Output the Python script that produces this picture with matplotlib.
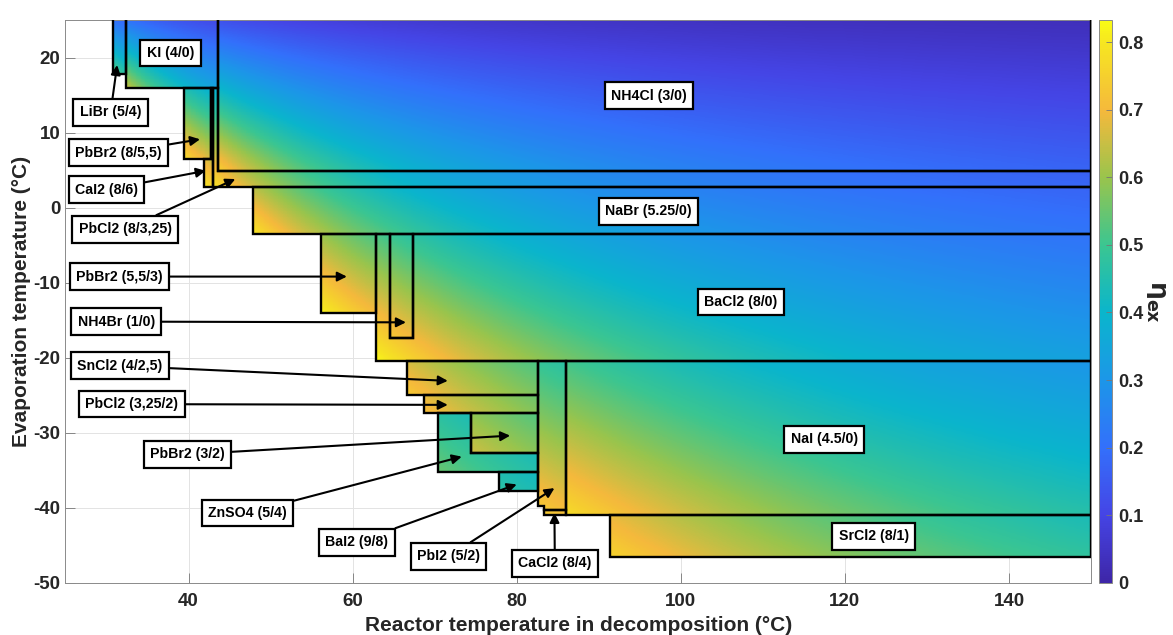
import numpy as np
import matplotlib
matplotlib.use("Agg")
import matplotlib.pyplot as plt
from matplotlib.path import Path
from matplotlib.patches import Polygon
from matplotlib.colors import LinearSegmentedColormap
from matplotlib.ticker import FuncFormatter

plt.rcParams['font.family'] = ['Liberation Sans', 'DejaVu Sans']
plt.rcParams['font.weight'] = 'bold'
plt.rcParams['mathtext.fontset'] = 'dejavusans'
plt.rcParams['axes.unicode_minus'] = False

# ---------------- data ----------------
salt_labels = ['LiBr (5/4)', 'KI (4/0)', 'PbBr2 (8/5,5)', 'CaI2 (8/6)', 'PbCl2 (8/3,25)',
               'NH4Cl (3/0)', 'NaBr (5.25/0)', 'PbBr2 (5,5/3)', 'BaCl2 (8/0)', 'NH4Br (1/0)',
               'SnCl2 (4/2,5)', 'PbCl2 (3,25/2)', 'PbBr2 (3/2)', 'ZnSO4 (5/4)', 'BaI2 (9/8)',
               'PbI2 (5/2)', 'CaCl2 (8/4)', 'NaI (4.5/0)', 'SrCl2 (8/1)']

# operating-domain boundaries of each salt: (reactor T, evaporation T) vertices in degC
region_LiBr = [(30.8, 26), (30.8, 17.8), (32.4, 17.8), (32.4, 26)]
region_KI = [(32.4, 26), (32.4, 16.0), (43.6, 16.0), (43.6, 26)]
region_PbBr2_855 = [(39.5, 16.0), (39.5, 6.5), (42.7, 6.5), (42.7, 16.0)]
region_CaI2 = [(41.9, 6.5), (41.9, 2.7), (43.0, 2.7), (43.0, 16.0), (42.7, 16.0), (42.7, 6.5)]
region_PbCl2_8325 = [(43.0, 16.0), (43.0, 2.7), (150, 2.7), (150, 4.9), (43.6, 4.9), (43.6, 16.0)]
region_NH4Cl = [(43.6, 26), (43.6, 4.9), (150, 4.9), (150, 26)]
region_NaBr = [(47.9, 2.7), (47.9, -3.5), (150, -3.5), (150, 2.7)]
region_PbBr2_553 = [(56.2, -3.5), (56.2, -14.0), (62.8, -14.0), (62.8, -3.5)]
region_BaCl2 = [(62.8, -3.5), (62.8, -20.4), (150, -20.4), (150, -3.5),
                (67.3, -3.5), (67.3, -17.4), (64.6, -17.4), (64.6, -3.5)]
region_NH4Br = [(64.6, -3.5), (64.6, -17.4), (67.3, -17.4), (67.3, -3.5)]
region_SnCl2 = [(66.6, -20.4), (66.6, -25.0), (82.6, -25.0), (82.6, -20.4)]
region_PbCl2_3252 = [(68.7, -25.0), (68.7, -27.4), (82.6, -27.4), (82.6, -25.0)]
region_PbBr2_32 = [(74.4, -27.4), (74.4, -32.7), (82.6, -32.7), (82.6, -27.4)]
region_ZnSO4 = [(70.4, -27.4), (70.4, -35.2), (82.6, -35.2), (82.6, -32.7), (74.4, -32.7), (74.4, -27.4)]
region_BaI2 = [(77.8, -35.2), (77.8, -37.8), (82.6, -37.8), (82.6, -35.2)]
region_PbI2 = [(82.6, -20.4), (82.6, -39.8), (83.3, -39.8), (83.3, -40.3), (86.0, -40.3), (86.0, -20.4)]
region_CaCl2 = [(83.3, -40.3), (83.3, -41.0), (86.0, -41.0), (86.0, -40.3)]
region_NaI = [(86.0, -20.4), (86.0, -41.0), (150, -41.0), (150, -20.4)]
region_SrCl2 = [(91.4, -41.0), (91.4, -46.6), (150, -46.6), (150, -41.0)]

regions = [region_LiBr, region_KI, region_PbBr2_855, region_CaI2, region_PbCl2_8325,
           region_NH4Cl, region_NaBr, region_PbBr2_553, region_BaCl2, region_NH4Br,
           region_SnCl2, region_PbCl2_3252, region_PbBr2_32, region_ZnSO4, region_BaI2,
           region_PbI2, region_CaCl2, region_NaI, region_SrCl2]

# exergy efficiency at the lowest-temperature corner of each domain
eta_peak = [0.55, 0.66, 0.78, 0.80, 0.80,
            0.76, 0.80, 0.82, 0.83, 0.74,
            0.74, 0.72, 0.66, 0.55, 0.47,
            0.74, 0.74, 0.78, 0.76]

# reference temperatures of the Carnot factors (K)
t_ref_evap = 302.65
t_ref_dec = 294.65

x_ticks = [40, 60, 80, 100, 120, 140]
y_ticks = [-50, -40, -30, -20, -10, 0, 10, 20]
cbar_ticks = [0, 0.1, 0.2, 0.3, 0.4, 0.5, 0.6, 0.7, 0.8]

# ---------------- parula-like colormap ----------------
cmap_pos = [0.00, 0.12, 0.24, 0.36, 0.48, 0.60, 0.72, 0.84, 0.96, 1.00]
cmap_rgb = [(0.243, 0.150, 0.660), (0.270, 0.270, 0.900), (0.200, 0.440, 0.985),
            (0.110, 0.590, 0.910), (0.040, 0.710, 0.800), (0.230, 0.775, 0.570),
            (0.600, 0.770, 0.300), (0.960, 0.725, 0.235), (0.965, 0.900, 0.130),
            (0.977, 0.984, 0.081)]
parula = LinearSegmentedColormap.from_list('parula', list(zip(cmap_pos, cmap_rgb)), N=256)

# ---------------- efficiency field ----------------
xlim = (25, 150)
ylim = (-50, 25)
step = 0.1
xc = np.arange(xlim[0] + step / 2, xlim[1], step)
yc = np.arange(ylim[0] + step / 2, ylim[1], step)
XX, YY = np.meshgrid(xc, yc)
pts = np.column_stack([XX.ravel(), YY.ravel()])
Z = np.full(XX.size, np.nan)
Td = XX.ravel() + 273.15
Te = YY.ravel() + 273.15
for verts, peak in zip(regions, eta_peak):
    inside = Path(verts).contains_points(pts)
    v = np.array(verts)
    td0 = v[:, 0].min() + 273.15
    te0 = v[:, 1].min() + 273.15
    f_e = (t_ref_evap / Te[inside] - 1) / (t_ref_evap / te0 - 1)
    f_d = (1 - t_ref_dec / td0) / (1 - t_ref_dec / Td[inside])
    Z[inside] = peak * f_e * f_d
Z = np.ma.masked_invalid(Z.reshape(XX.shape))

# ---------------- figure ----------------
fig = plt.figure(figsize=(11.73, 6.35), dpi=100)
ax = fig.add_axes([0.0558, 0.0824, 0.8743, 0.8861])
cax = fig.add_axes([0.9369, 0.0824, 0.0113, 0.8861])

im = ax.imshow(Z, extent=[xlim[0], xlim[1], ylim[0], ylim[1]], origin='lower',
               cmap=parula, vmin=0, vmax=0.833, aspect='auto',
               interpolation='nearest', zorder=1)

for verts in regions:
    ax.add_patch(Polygon(verts, closed=True, fill=False, ec='black', lw=1.7,
                         joinstyle='miter', zorder=3))

ax.set_xlim(*xlim)
ax.set_ylim(*ylim)
ax.set_xticks(x_ticks)
ax.set_yticks(y_ticks)
ax.set_axisbelow(True)
ax.grid(True, color='#e3e3e3', lw=0.7)
ax.tick_params(direction='in', length=7, width=0.6, color='#777777',
               labelsize=13.5, labelcolor='#262626')
ax.tick_params(axis='x', pad=7.5)
ax.tick_params(axis='y', pad=3.5)
for lab in ax.get_xticklabels() + ax.get_yticklabels():
    lab.set_fontweight('bold')
for sp in ax.spines.values():
    sp.set_color('#8a8a8a')
    sp.set_linewidth(0.7)
ax.set_xlabel('Reactor temperature in decomposition (°C)', fontsize=15,
              fontweight='bold', color='#262626', labelpad=4)
ax.set_ylabel('Evaporation temperature (°C)', fontsize=15,
              fontweight='bold', color='#262626', labelpad=2)

# labels
box = dict(boxstyle='square,pad=0.45', fc='white', ec='black', lw=1.6)
arrow = dict(arrowstyle='-|>', color='black', lw=1.5, mutation_scale=14,
             shrinkA=0, shrinkB=0)
label_text_pos = {
    'LiBr (5/4)': (30.5, 12.7), 'KI (4/0)': (37.8, 20.6), 'PbBr2 (8/5,5)': (31.5, 7.3),
    'CaI2 (8/6)': (30.0, 2.4), 'PbCl2 (8/3,25)': (32.3, -2.9), 'NH4Cl (3/0)': (96.1, 14.9),
    'NaBr (5.25/0)': (96.1, -0.5), 'PbBr2 (5,5/3)': (31.6, -9.2), 'BaCl2 (8/0)': (107.3, -12.6),
    'NH4Br (1/0)': (31.2, -15.2), 'SnCl2 (4/2,5)': (31.6, -21.1), 'PbCl2 (3,25/2)': (33.1, -26.2),
    'PbBr2 (3/2)': (39.9, -32.9), 'ZnSO4 (5/4)': (47.2, -40.7), 'BaI2 (9/8)': (60.5, -44.6),
    'PbI2 (5/2)': (71.7, -46.5), 'CaCl2 (8/4)': (84.65, -47.4), 'NaI (4.5/0)': (117.5, -30.9),
    'SrCl2 (8/1)': (123.5, -43.8)}
label_arrow_tip = {
    'LiBr (5/4)': (31.3, 19.0), 'PbBr2 (8/5,5)': (41.4, 9.1), 'CaI2 (8/6)': (42.1, 4.9),
    'PbCl2 (8/3,25)': (45.7, 3.8), 'PbBr2 (5,5/3)': (59.3, -9.2), 'NH4Br (1/0)': (66.5, -15.3),
    'SnCl2 (4/2,5)': (71.6, -23.1), 'PbCl2 (3,25/2)': (71.6, -26.3), 'PbBr2 (3/2)': (79.2, -30.4),
    'ZnSO4 (5/4)': (73.3, -33.2), 'BaI2 (9/8)': (80.0, -36.9), 'PbI2 (5/2)': (84.6, -37.4),
    'CaCl2 (8/4)': (84.6, -40.7)}

for name in salt_labels:
    tx, ty = label_text_pos[name]
    if name in label_arrow_tip:
        ax.annotate(name, xy=label_arrow_tip[name], xytext=(tx, ty), textcoords='data',
                    ha='center', va='center', fontsize=10.2, fontweight='bold',
                    bbox=box, arrowprops=arrow, zorder=5, annotation_clip=False)
    else:
        ax.text(tx, ty, name, ha='center', va='center', fontsize=10.2,
                fontweight='bold', bbox=box, zorder=5)

cb = fig.colorbar(im, cax=cax, ticks=cbar_ticks,
                  format=FuncFormatter(lambda v, p: '%g' % v))
cb.outline.set_edgecolor('#8a8a8a')
cb.outline.set_linewidth(0.7)
cax.tick_params(direction='in', length=4, width=0.6, color='#777777',
                labelsize=13, labelcolor='#262626', pad=4)
for lab in cax.get_yticklabels():
    lab.set_fontweight('bold')
cb.set_label(r'$\mathbf{\eta}_{\mathbf{ex}}$', fontsize=18, rotation=270,
             labelpad=18, color='#262626')

fig.savefig('out.png', dpi=100)
